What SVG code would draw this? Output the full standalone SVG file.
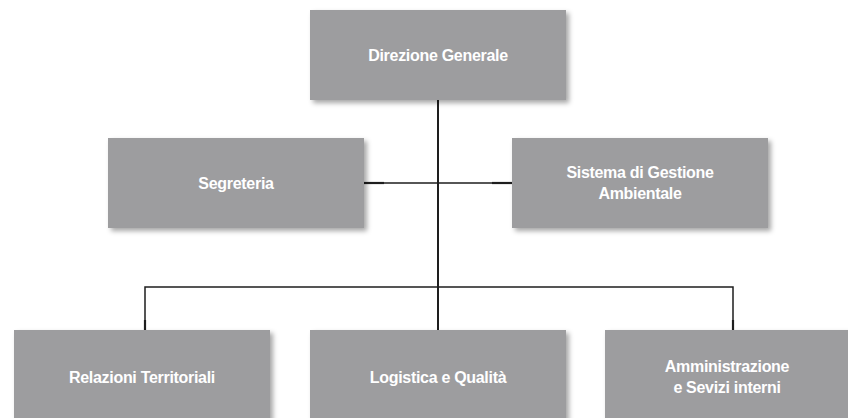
<svg xmlns="http://www.w3.org/2000/svg" width="848" height="418" viewBox="0 0 848 418">
<defs>
<filter id="sh" x="-10%" y="-10%" width="130%" height="140%">
<feDropShadow dx="3" dy="3" stdDeviation="2.5" flood-color="#000" flood-opacity="0.35"/>
</filter>
<style>
.box{fill:#9d9d9f;filter:url(#sh)}
.t{fill:#fff;font-family:"Liberation Sans",Arial,sans-serif;font-weight:bold;font-size:16px;text-anchor:middle;letter-spacing:-0.3px}
.ln{stroke:#1e1e1e;stroke-width:1.5;fill:none}
</style>
</defs>
<rect width="848" height="418" fill="#fff"/>
<g id="connectors">
<line class="ln" x1="438" y1="100" x2="438" y2="330" style="stroke-width:2"/>
<line class="ln" x1="363" y1="183" x2="512" y2="183"/>
<polyline class="ln" points="145,330 145,287 733,287 733,330"/>
<line class="ln" x1="145" y1="320" x2="145" y2="330" style="stroke-width:2.2"/>
<line class="ln" x1="733" y1="320" x2="733" y2="330" style="stroke-width:2.2"/>
<line class="ln" x1="363" y1="183" x2="384" y2="183" style="stroke-width:2.2"/>
<line class="ln" x1="492" y1="183" x2="512" y2="183" style="stroke-width:2.2"/>
</g>
<g id="direzione">
<rect class="box" x="310" y="10" width="256" height="90"/>
<text class="t" x="438" y="61">Direzione Generale</text>
</g>
<g id="segreteria">
<rect class="box" x="108" y="138" width="256" height="90"/>
<text class="t" x="236" y="189">Segreteria</text>
</g>
<g id="sistema">
<rect class="box" x="512" y="138" width="256" height="90"/>
<text class="t" x="640" y="178">Sistema di Gestione</text>
<text class="t" x="640" y="199">Ambientale</text>
</g>
<g id="relazioni">
<rect class="box" x="14" y="330" width="256" height="95"/>
<text class="t" x="142" y="383">Relazioni Territoriali</text>
</g>
<g id="logistica">
<rect class="box" x="310" y="330" width="256" height="95"/>
<text class="t" x="438" y="383">Logistica e Qualità</text>
</g>
<g id="amministrazione">
<rect class="box" x="605" y="330" width="256" height="95"/>
<text class="t" x="727" y="372">Amministrazione</text>
<text class="t" x="727" y="393">e Sevizi interni</text>
</g>
</svg>
